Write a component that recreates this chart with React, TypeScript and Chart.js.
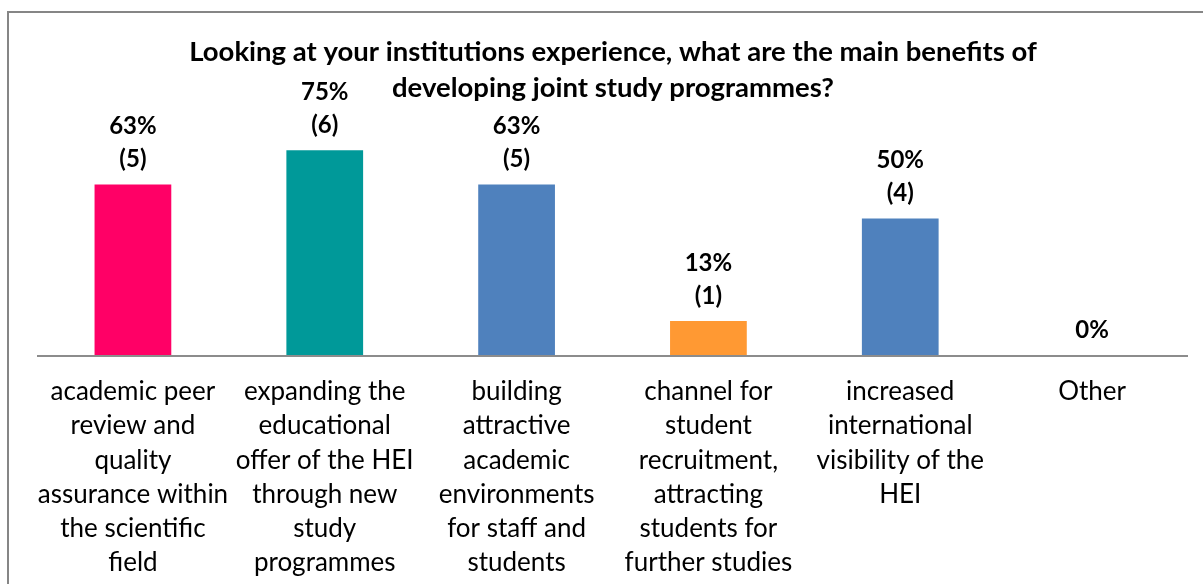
import React, { useEffect, useRef } from "react";
import { Chart, registerables } from "chart.js";

Chart.register(...registerables);

const titleLines = [
  "Looking at your institutions experience, what are the main benefits of",
  "developing joint study programmes?",
];

const categories: string[][] = [
  ["academic peer", "review and", "quality", "assurance within", "the scientific", "field"],
  ["expanding the", "educational", "offer of the HEI", "through new", "study", "programmes"],
  ["building", "attractive", "academic", "environments", "for staff and", "students"],
  ["channel for", "student", "recruitment,", "attracting", "students for", "further studies"],
  ["increased", "international", "visibility of the", "HEI"],
  ["Other"],
];

const percentValues = [62.5, 75, 62.5, 12.5, 50, 0];
const percentLabels = ["63%", "75%", "63%", "13%", "50%", "0%"];
const countLabels = ["(5)", "(6)", "(5)", "(1)", "(4)", ""];
const barColors = ["#FF0066", "#009999", "#4F81BD", "#FF9933", "#4F81BD", "#4F81BD"];

const FONT = "Lato, Carlito, 'Open Sans', sans-serif";

const framePlugin = {
  id: "frame",
  beforeDraw(chart: any) {
    const ctx = chart.ctx;
    ctx.save();
    ctx.fillStyle = "#ffffff";
    ctx.fillRect(0, 0, chart.width, chart.height);
    ctx.strokeStyle = "#868686";
    ctx.lineWidth = 2;
    ctx.strokeRect(8, 12, 1400, 1000);
    ctx.restore();
  },
  afterDraw(chart: any) {
    const ctx = chart.ctx;
    const area = chart.chartArea;
    ctx.save();
    ctx.strokeStyle = "#8C8C8C";
    ctx.lineWidth = 2;
    ctx.beginPath();
    ctx.moveTo(area.left, area.bottom + 1);
    ctx.lineTo(area.right, area.bottom + 1);
    ctx.stroke();
    ctx.fillStyle = "#000000";
    ctx.font = `bold 27.5px ${FONT}`;
    ctx.textAlign = "center";
    ctx.textBaseline = "middle";
    ctx.fillText(titleLines[0], 613, 52);
    ctx.fillText(titleLines[1], 613, 88);
    ctx.restore();
  },
};

const dataLabelPlugin = {
  id: "dataLabels",
  afterDatasetsDraw(chart: any) {
    const ctx = chart.ctx;
    const meta = chart.getDatasetMeta(0);
    ctx.save();
    ctx.fillStyle = "#000000";
    ctx.font = `bold 24px ${FONT}`;
    ctx.textAlign = "center";
    ctx.textBaseline = "middle";
    meta.data.forEach((bar: any, i: number) => {
      const x = bar.x;
      const top = bar.y;
      if (countLabels[i]) {
        ctx.fillText(countLabels[i], x, top - 25);
        ctx.fillText(percentLabels[i], x, top - 58);
      } else {
        ctx.fillText(percentLabels[i], x, top - 25);
      }
    });
    ctx.restore();
  },
};

export default function App() {
  const canvasRef = useRef<HTMLCanvasElement | null>(null);

  useEffect(() => {
    const canvas = canvasRef.current;
    if (!canvas) return;
    const chart = new Chart(canvas, {
      type: "bar",
      data: {
        labels: categories,
        datasets: [
          {
            data: percentValues,
            backgroundColor: barColors,
            borderWidth: 0,
            categoryPercentage: 0.8,
            barPercentage: 0.5,
          },
        ],
      },
      options: {
        responsive: false,
        animation: false,
        devicePixelRatio: 1,
        layout: { padding: { left: 37, right: 15, top: 82, bottom: 0 } },
        plugins: {
          legend: { display: false },
          title: { display: false },
          tooltip: { enabled: false },
        },
        scales: {
          x: {
            grid: { display: false, drawTicks: false },
            border: { display: false },
            ticks: {
              color: "#000000",
              font: { family: FONT, size: 26, lineHeight: 1.31 },
              padding: 20,
              maxRotation: 0,
              autoSkip: false,
            },
            afterFit(scale: any) {
              scale.height = 229;
            },
          },
          y: {
            display: false,
            min: 0,
            max: 100,
          },
        },
      },
      plugins: [framePlugin, dataLabelPlugin],
    });
    return () => chart.destroy();
  }, []);

  return (
    <div style={{ position: "absolute", left: 0, top: 0, width: 1203, height: 584 }}>
      <canvas ref={canvasRef} width={1203} height={584} style={{ display: "block", width: 1203, height: 584 }} />
    </div>
  );
}
